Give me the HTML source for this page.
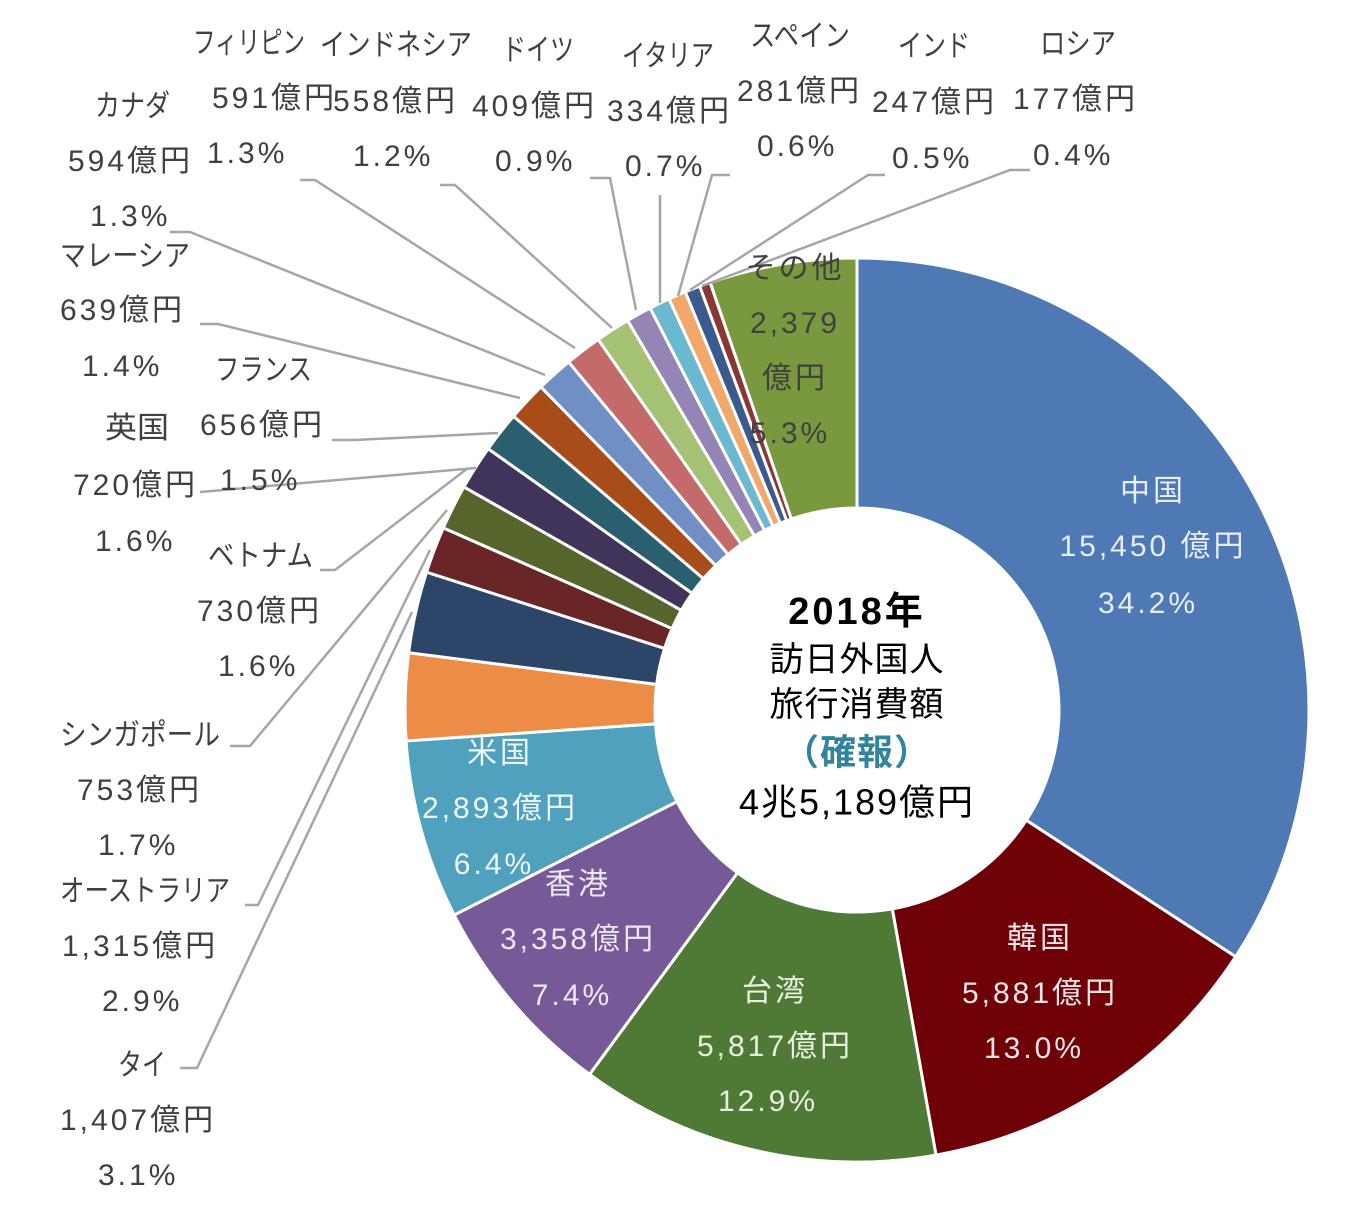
<!DOCTYPE html>
<html><head><meta charset="utf-8"><style>
html,body{margin:0;padding:0;background:#fff;}
svg text{font-family:"Liberation Sans","Noto Sans CJK JP",sans-serif;font-size:30px;fill:#404040;letter-spacing:3px;dominant-baseline:middle;}
svg text.n{letter-spacing:0;}
</style></head><body>
<svg id="s" width="1358" height="1218" viewBox="0 0 1358 1218" xmlns="http://www.w3.org/2000/svg">
<g id="slices"></g>
<g fill="none" stroke="#a6a6a6" stroke-width="2.5">
<polyline points="412,612 197,1068 180,1068"/>
<polyline points="430,550 258,905 245,905"/>
<polyline points="447,510 250,746 230,746"/>
<polyline points="468,468 335,570 320,570"/>
<polyline points="476,468 200,492"/>
<polyline points="498,433 355,440 332,440"/>
<polyline points="520,398 218,324 200,324"/>
<polyline points="545,375 190,232 170,232"/>
<polyline points="575,348 315,180 300,180"/>
<polyline points="612,328 455,185 440,185"/>
<polyline points="636,310 610,178 590,178"/>
<polyline points="660,303 660,195"/>
<polyline points="678,296 712,175 730,175"/>
<polyline points="690,290 868,175 885,175"/>
<polyline points="702,286 1010,170 1030,170"/>
</g>
<g>
<text class="n" x="193" y="45" textLength="112" lengthAdjust="spacingAndGlyphs">フィリピン</text><text x="212" y="100">591億円</text><text x="207" y="155">1.3%</text>
<text class="n" x="320" y="47" textLength="152" lengthAdjust="spacingAndGlyphs">インドネシア</text><text x="333" y="103">558億円</text><text x="353" y="158">1.2%</text>
<text class="n" x="502" y="52" textLength="72" lengthAdjust="spacingAndGlyphs">ドイツ</text><text x="472" y="108">409億円</text><text x="495" y="163">0.9%</text>
<text class="n" x="622" y="58" textLength="92" lengthAdjust="spacingAndGlyphs">イタリア</text><text x="607" y="113">334億円</text><text x="625" y="168">0.7%</text>
<text class="n" x="750" y="38" textLength="100" lengthAdjust="spacingAndGlyphs">スペイン</text><text x="737" y="93">281億円</text><text x="757" y="148">0.6%</text>
<text class="n" x="898" y="48" textLength="72" lengthAdjust="spacingAndGlyphs">インド</text><text x="872" y="104">247億円</text><text x="892" y="160">0.5%</text>
<text class="n" x="1040" y="46" textLength="76" lengthAdjust="spacingAndGlyphs">ロシア</text><text x="1013" y="101">177億円</text><text x="1033" y="157">0.4%</text>
<text class="n" x="95" y="108" textLength="75" lengthAdjust="spacingAndGlyphs">カナダ</text><text x="68" y="163">594億円</text><text x="90" y="218">1.3%</text>
<text class="n" x="60" y="258" textLength="130" lengthAdjust="spacingAndGlyphs">マレーシア</text><text x="60" y="312">639億円</text><text x="82" y="368">1.4%</text>
<text class="n" x="215" y="372" textLength="97" lengthAdjust="spacingAndGlyphs">フランス</text><text x="200" y="427">656億円</text><text x="220" y="482">1.5%</text>
<text class="n" x="105" y="430" textLength="64" lengthAdjust="spacingAndGlyphs">英国</text><text x="73" y="487">720億円</text><text x="95" y="543">1.6%</text>
<text class="n" x="208" y="558" textLength="105" lengthAdjust="spacingAndGlyphs">ベトナム</text><text x="197" y="613">730億円</text><text x="218" y="668">1.6%</text>
<text class="n" x="60" y="737" textLength="160" lengthAdjust="spacingAndGlyphs">シンガポール</text><text x="77" y="792">753億円</text><text x="98" y="847">1.7%</text>
<text class="n" x="60" y="893" textLength="170" lengthAdjust="spacingAndGlyphs">オーストラリア</text><text x="62" y="948">1,315億円</text><text x="102" y="1003">2.9%</text>
<text class="n" x="118" y="1067" textLength="48" lengthAdjust="spacingAndGlyphs">タイ</text><text x="60" y="1122">1,407億円</text><text x="98" y="1177">3.1%</text>
</g>
<g text-anchor="middle">
<text x="795" y="270">その他</text><text x="795" y="325">2,379</text><text x="795" y="380">億円</text><text x="790" y="435">5.3%</text>
<text x="1153" y="493" style="fill:#e8eef8">中国</text><text x="1153" y="548" style="fill:#e8eef8">15,450 億円</text><text x="1148" y="605" style="fill:#e8eef8">34.2%</text>
<text x="1040" y="940" style="fill:#f2e6e6">韓国</text><text x="1040" y="995" style="fill:#f2e6e6">5,881億円</text><text x="1034" y="1050" style="fill:#f2e6e6">13.0%</text>
<text x="775" y="993" style="fill:#e8efe2">台湾</text><text x="775" y="1048" style="fill:#e8efe2">5,817億円</text><text x="768" y="1103" style="fill:#e8efe2">12.9%</text>
<text x="578" y="886" style="fill:#ece8f2">香港</text><text x="578" y="941" style="fill:#ece8f2">3,358億円</text><text x="572" y="997" style="fill:#ece8f2">7.4%</text>
<text x="500" y="755" style="fill:#eef6f9">米国</text><text x="500" y="810" style="fill:#eef6f9">2,893億円</text><text x="494" y="866" style="fill:#eef6f9">6.4%</text>
<text x="857" y="614" style="font-size:38px;font-weight:bold;fill:#000">2018年</text>
<text x="857" y="662" style="font-size:34px;fill:#000;letter-spacing:1px">訪日外国人</text>
<text x="857" y="707" style="font-size:34px;fill:#000;letter-spacing:1px">旅行消費額</text>
<text x="857" y="755" style="font-size:36px;font-weight:bold;fill:#31849b;letter-spacing:1px">（確報）</text>
<text x="857" y="805" style="font-size:36px;fill:#000;letter-spacing:2px">4兆5,189億円</text>
</g>
</svg>
<script>
var d=[[15450,"#4e79b5"],[5881,"#700008"],[5817,"#4e7a35"],[3358,"#765a98"],[2893,"#4fa1bd"],[1407,"#ed8c47"],[1315,"#2c4568"],[753,"#6a2626"],[730,"#56652c"],[720,"#41345a"],[656,"#2a5f6f"],[639,"#a84d1a"],[594,"#6f8fc5"],[591,"#c46a6a"],[558,"#a5c274"],[409,"#9585b6"],[334,"#6ab9d0"],[281,"#f2a76b"],[247,"#3c5a8e"],[177,"#8a3636"],[2379,"#7a993e"]];
var tot=0;d.forEach(function(x){tot+=x[0];});
var cx=857,cy=710,R=452,r=202,a=0,g=document.getElementById("slices"),h="";
function p(rad,ang){return (cx+rad*Math.sin(ang)).toFixed(2)+","+(cy-rad*Math.cos(ang)).toFixed(2);}
d.forEach(function(x){var b=a+x[0]/tot*2*Math.PI,l=(b-a)>Math.PI?1:0;
h+='<path d="M'+p(R,a)+' A'+R+','+R+' 0 '+l+' 1 '+p(R,b)+' L'+p(r,b)+' A'+r+','+r+' 0 '+l+' 0 '+p(r,a)+' Z" fill="'+x[1]+'" stroke="#fff" stroke-width="3"/>';a=b;});
g.innerHTML=h;
</script>
</body></html>
